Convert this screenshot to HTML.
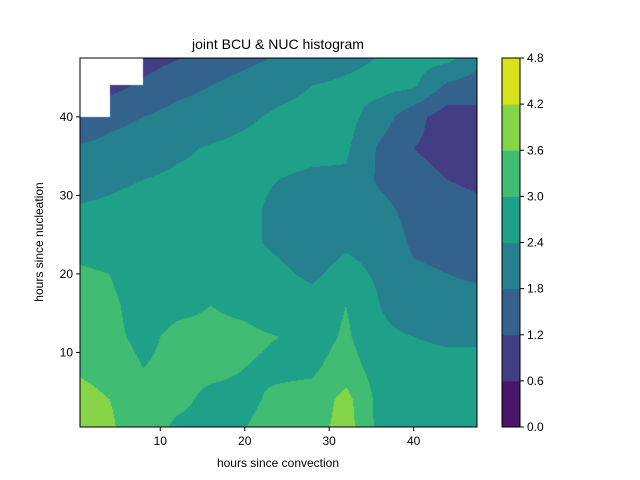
<!DOCTYPE html>
<html><head><meta charset="utf-8"><style>
body{margin:0;background:#fff;font-family:"Liberation Sans",sans-serif;}
#wrap{position:relative;width:640px;height:480px;}
canvas{position:absolute;left:80px;top:58px;}
svg{position:absolute;left:0;top:0;}
</style></head><body>
<div id="wrap">
<canvas id="cv" width="397" height="369"></canvas>
<svg id="sv" width="640" height="480"></svg>
</div>
<script>
const levels=[0,0.6,1.2,1.8,2.4,3.0,3.6,4.2,4.8];
const colors=["#481769","#433d84","#33638d","#26818e","#1fa088","#40bd72","#86d549","#d8e219"];
const gridX=[0,4,8,12,16,20,24,28,32,36,40,44,48];
const gridY=[0,4,8,12,16,20,24,28,32,36,40,44,48];
const N=NaN;
const zValues=[
[4.3,3.7,3.2,2.9,2.9,3.0,3.2,3.3,3.9,2.8,2.7,2.7,2.7],
[4.0,3.6,3.3,3.1,2.9,2.9,3.1,3.2,3.8,2.8,2.7,2.7,2.7],
[3.5,3.2,3.0,3.1,3.1,3.0,2.9,2.9,3.3,2.7,2.6,2.6,2.6],
[3.4,3.1,2.9,3.1,3.1,3.1,3.0,2.7,3.1,2.5,2.4,2.3,2.3],
[3.3,3.1,2.8,2.9,3.0,2.9,2.7,2.6,3.0,2.4,2.1,2.0,2.0],
[3.1,3.0,2.7,2.7,2.7,2.7,2.5,2.3,2.6,2.3,1.9,1.8,1.7],
[2.8,2.7,2.6,2.6,2.6,2.5,2.3,2.1,2.3,2.2,1.7,1.6,1.5],
[2.45,2.5,2.6,2.6,2.6,2.5,2.3,2.1,2.2,2.0,1.6,1.4,1.3],
[2.2,2.3,2.4,2.5,2.55,2.5,2.4,2.3,2.3,1.7,1.4,1.2,1.1],
[1.9,2.0,2.1,2.3,2.45,2.55,2.6,2.55,2.5,1.7,1.2,1.0,1.0],
[1.1,1.6,1.8,2.0,2.1,2.3,2.5,2.6,2.6,2.1,1.4,0.9,1.0],
[N,1.0,1.3,1.6,1.8,2.0,2.2,2.4,2.5,2.6,2.5,1.7,1.5],
[N,N,0.9,1.1,1.4,1.6,1.8,2.0,2.2,2.4,2.6,2.7,2.0]];
const xTicks=[10,20,30,40];
const yTicks=[10,20,30,40];
const X0=80,X1=477,Y0=58,Y1=427,DMIN=0.5,DMAX=47.5;
const sx=v=>X0+(v-DMIN)/(DMAX-DMIN)*(X1-X0);
const sy=v=>Y1-(v-DMIN)/(DMAX-DMIN)*(Y1-Y0);
function hex(c){return [parseInt(c.slice(1,3),16),parseInt(c.slice(3,5),16),parseInt(c.slice(5,7),16)];}
const rgb=colors.map(hex);
const cv=document.getElementById('cv'),ctx=cv.getContext('2d');
const img=ctx.createImageData(cv.width,cv.height);
const step=gridX[1]-gridX[0];
for(let py=0;py<cv.height;py++){for(let px=0;px<cv.width;px++){
 const dx=DMIN+(px+0.5)/cv.width*(DMAX-DMIN), dy=DMAX-(py+0.5)/cv.height*(DMAX-DMIN);
 let i=Math.min(Math.floor((dx-gridX[0])/step),gridX.length-2), j=Math.min(Math.floor((dy-gridY[0])/step),gridY.length-2);
 const fx=(dx-gridX[i])/step, fy=(dy-gridY[j])/step;
 const v=(zValues[j][i]*(1-fx)+zValues[j][i+1]*fx)*(1-fy)+(zValues[j+1][i]*(1-fx)+zValues[j+1][i+1]*fx)*fy;
 const o=(py*cv.width+px)*4;
 if(isNaN(v)){img.data[o]=255;img.data[o+1]=255;img.data[o+2]=255;img.data[o+3]=255;continue;}
 let k=0;while(k<colors.length-1&&v>=levels[k+1])k++;
 img.data[o]=rgb[k][0];img.data[o+1]=rgb[k][1];img.data[o+2]=rgb[k][2];img.data[o+3]=255;}}
ctx.putImageData(img,0,0);
const sv=document.getElementById('sv');const NS="http://www.w3.org/2000/svg";
function el(t,a,txt){const e=document.createElementNS(NS,t);for(const k in a)e.setAttribute(k,a[k]);if(txt!==undefined)e.textContent=txt;sv.appendChild(e);return e;}
let e=el('rect',{x:X0,y:Y0,width:X1-X0,height:Y1-Y0,fill:'none',stroke:'#000','stroke-width':1});

xTicks.forEach(t=>{const x=sx(t);
 e=el('line',{x1:x,x2:x,y1:Y1,y2:Y1+4,stroke:'#000'});
 e=el('text',{x:x,y:Y1+18,'font-size':12,'text-anchor':'middle'},t);});
yTicks.forEach(t=>{const y=sy(t);
 e=el('line',{x1:X0-4,x2:X0,y1:y,y2:y,stroke:'#000'});
 e=el('text',{x:X0-7,y:y+4,'font-size':12,'text-anchor':'end'},t);});
e=el('text',{x:278,y:49,'font-size':14,'text-anchor':'middle'},'joint BCU & NUC histogram');
e=el('text',{x:278,y:467,'font-size':12,'text-anchor':'middle'},'hours since convection');
e=el('text',{x:43,y:242,'font-size':12,'text-anchor':'middle',transform:'rotate(-90 43 242)'},'hours since nucleation');
const CX=502,CW=18,cy=v=>Y1-(v-levels[0])/(levels[levels.length-1]-levels[0])*(Y1-Y0);
colors.forEach((c,k)=>{e=el('rect',{x:CX,y:cy(levels[k+1]),width:CW,height:cy(levels[k])-cy(levels[k+1])+0.5,fill:c});});
e=el('rect',{x:CX,y:Y0,width:CW,height:Y1-Y0,fill:'none',stroke:'#000'});
levels.forEach(l=>{const y=cy(l);
 e=el('line',{x1:CX+CW,x2:CX+CW+4,y1:y,y2:y,stroke:'#000'});
 e=el('text',{x:CX+CW+7,y:y+4,'font-size':12},l.toFixed(1));});
</script>
</body></html>
